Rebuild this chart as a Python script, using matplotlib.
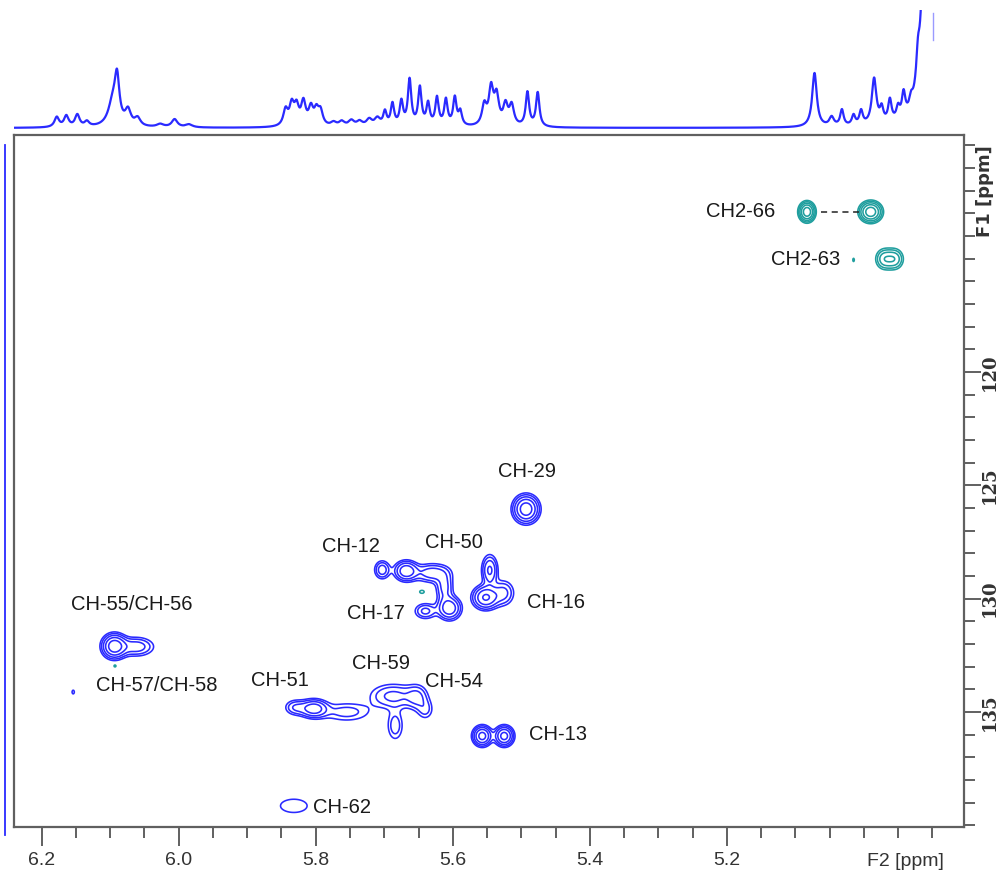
import numpy as np
import matplotlib
matplotlib.use("Agg")
import matplotlib.pyplot as plt
from matplotlib.lines import Line2D
from matplotlib.ticker import MultipleLocator, FixedLocator

# 1H projection (F2): peak position (ppm), height, half width (ppm)
h_ppm = [6.178, 6.164, 6.148, 6.134, 6.096, 6.090, 6.074, 6.060, 6.027, 6.006, 5.985,
         5.844, 5.835, 5.828, 5.818, 5.807, 5.799, 5.793,
         5.774, 5.762, 5.748, 5.736, 5.722, 5.710,
         5.699, 5.688, 5.675, 5.663, 5.648, 5.636, 5.623, 5.610, 5.597, 5.589,
         5.554, 5.544, 5.536, 5.523, 5.514, 5.491, 5.476,
         5.072, 5.047, 5.032, 5.015, 5.004, 4.985, 4.974, 4.962, 4.950, 4.942,
         4.931, 4.921, 4.906]
h_int = [10, 11, 12, 5, 24, 42, 15, 8, 3, 8, 3,
         16, 20, 18, 23, 17, 14, 14,
         4, 5, 6, 5, 7, 8,
         14, 22, 24, 46, 38, 22, 28, 26, 28, 14,
         20, 36, 28, 20, 20, 34, 34,
         54, 9, 16, 10, 14, 46, 14, 22, 12, 24,
         10, 30, 900]
h_hw = [0.004, 0.004, 0.004, 0.004, 0.008, 0.004, 0.005, 0.005, 0.006, 0.005, 0.006,
        0.004, 0.004, 0.004, 0.004, 0.004, 0.004, 0.004,
        0.005, 0.005, 0.005, 0.005, 0.005, 0.005,
        0.003, 0.003, 0.003, 0.003, 0.003, 0.003, 0.003, 0.003, 0.003, 0.003,
        0.004, 0.004, 0.004, 0.004, 0.004, 0.003, 0.003,
        0.004, 0.004, 0.003, 0.003, 0.003, 0.004, 0.003, 0.003, 0.003, 0.003,
        0.003, 0.003, 0.004]

# CH cross peaks (positive phase): F2, F1, width F2, width F1, amplitude
ch_f2 = [6.094, 6.062, 6.154,
         5.803, 5.830, 5.755, 5.687, 5.652, 5.640, 5.684,
         5.557, 5.525, 5.832, 5.493,
         5.703, 5.668, 5.630, 5.612, 5.605, 5.640,
         5.546, 5.552, 5.526]
ch_f1 = [132.10, 132.12, 134.12,
         134.85, 134.80, 135.00, 134.30, 134.35, 134.90, 135.60,
         136.06, 136.06, 139.14, 126.05,
         128.73, 128.78, 128.87, 129.50, 130.42, 130.55,
         128.75, 129.95, 129.75]
ch_w2 = [0.010, 0.016, 0.002,
         0.012, 0.010, 0.025, 0.022, 0.010, 0.008, 0.008,
         0.0078, 0.0078, 0.020, 0.0105,
         0.007, 0.010, 0.016, 0.008, 0.010, 0.010,
         0.007, 0.011, 0.010]
ch_w1 = [0.30, 0.26, 0.10,
         0.24, 0.22, 0.30, 0.35, 0.35, 0.30, 0.45,
         0.25, 0.25, 0.30, 0.34,
         0.25, 0.26, 0.26, 0.40, 0.30, 0.22,
         0.40, 0.30, 0.35]
ch_amp = [0.9, 0.35, 0.14,
          0.55, 0.25, 0.20, 0.30, 0.25, 0.18, 0.22,
          0.8, 0.8, 0.16, 0.9,
          0.35, 0.6, 0.35, 0.3, 0.6, 0.3,
          0.45, 0.7, 0.3]

# CH2 cross peaks (negative phase)
ch2_f2 = [5.083, 4.990, 4.970, 4.955, 5.015, 5.645, 6.093]
ch2_f1 = [112.94, 112.94, 115.02, 115.02, 115.06, 129.70, 132.97]
ch2_w2 = [0.0065, 0.009, 0.008, 0.008, 0.0015, 0.004, 0.002]
ch2_w1 = [0.24, 0.25, 0.28, 0.28, 0.10, 0.08, 0.06]
ch2_amp = [0.9, 0.9, 0.35, 0.35, 0.13, 0.14, 0.13]

# assignments
labels = ["CH2-66", "CH2-63", "CH-29", "CH-12", "CH-50", "CH-17", "CH-16",
          "CH-55/CH-56", "CH-57/CH-58", "CH-51", "CH-59", "CH-54", "CH-13", "CH-62"]
label_f2 = [5.130, 5.034, 5.491, 5.748, 5.598, 5.712, 5.449,
            6.068, 6.032, 5.852, 5.705, 5.598, 5.447, 5.762]
label_f1 = [112.94, 115.06, 124.41, 127.72, 127.54, 130.67, 130.15,
            130.28, 133.81, 133.59, 132.84, 133.67, 136.01, 139.23]
label_ha = ["right", "right"] + ["center"] * 12

blue = "#2a2aff"
teal = "#1f9e9e"
frame = "#606060"
sans = ["Liberation Sans", "DejaVu Sans"]

x_lim = (6.2404, 4.8538)
y_lim = (140.06, 109.55)

fig = plt.figure(figsize=(10.01, 8.77), dpi=100)
ax = fig.add_axes([0.01399, 0.05735, 0.94905, 0.78871])
ax_top = fig.add_axes([0.01399, 0.8472, 0.94905, 0.1414], sharex=ax)

# 2D field from the cross peak list
f2 = np.arange(4.85, 6.25, 0.0008)
f1 = np.arange(109.5, 140.1, 0.025)
X, Y = np.meshgrid(f2, f1)


def field(c2, c1, w2, w1, amp):
    z = np.zeros_like(X)
    for a, b, s2, s1, h in zip(c2, c1, w2, w1, amp):
        z += h * np.exp(-0.5 * (((X - a) / s2) ** 2 + ((Y - b) / s1) ** 2))
    return z


levels = 0.1 * 1.6 ** np.arange(5)
ax.contour(X, Y, field(ch_f2, ch_f1, ch_w2, ch_w1, ch_amp), levels=levels,
           colors=blue, linewidths=1.15)
ax.contour(X, Y, field(ch2_f2, ch2_f1, ch2_w2, ch2_w1, ch2_amp), levels=levels,
           colors=teal, linewidths=1.15)

# dashed link between the two CH2-66 protons
ax.plot([ch2_f2[0] - 0.02, ch2_f2[1] + 0.017], [ch2_f1[0], ch2_f1[1]],
        color="#222222", lw=1.1, ls=(0, (4, 3)))

for t, a, b, ha in zip(labels, label_f2, label_f1, label_ha):
    ax.text(a, b, t, ha=ha, va="center", fontsize=14.5, color="#1a1a1a", family=sans)

ax.set_xlim(*x_lim)
ax.set_ylim(*y_lim)
for s in ax.spines.values():
    s.set_color(frame)
    s.set_linewidth(1.6)

# F2 axis
ax.xaxis.set_major_locator(FixedLocator([6.2, 6.0, 5.8, 5.6, 5.4, 5.2]))
ax.xaxis.set_minor_locator(MultipleLocator(0.05))
ax.set_xticklabels(["6.2", "6.0", "5.8", "5.6", "5.4", "5.2"])
ax.tick_params(axis="x", which="major", direction="out", length=14, width=1.4,
               color=frame, pad=4, labelsize=14, labelcolor="#333333")
ax.tick_params(axis="x", which="minor", direction="out", length=8, width=1.4, color=frame)
for lab in ax.get_xticklabels():
    lab.set_family(sans)
ax.text(4.995, -0.05, "F2 [ppm]", transform=ax.get_xaxis_transform(),
        ha="left", va="center", fontsize=14, color="#333333", family=sans)

# F1 axis on the right, labels turned
ax.yaxis.tick_right()
ax.yaxis.set_major_locator(FixedLocator([120, 125, 130, 135]))
ax.yaxis.set_minor_locator(MultipleLocator(1))
ax.set_yticklabels(["120", "125", "130", "135"])
ax.tick_params(axis="y", which="major", direction="out", length=12, width=1.4,
               color=frame, pad=0, labelsize=13, labelcolor="#333333")
ax.tick_params(axis="y", which="minor", direction="out", length=8, width=1.4, color=frame)
for lab in ax.get_yticklabels():
    lab.set_rotation(90)
    lab.set_va("center")
    lab.set_weight("bold")
    lab.set_family(["DejaVu Serif"])
ax.text(1.022, 0.919, "F1 [ppm]", transform=ax.transAxes, rotation=90,
        ha="center", va="center", fontsize=13, weight="bold", color="#333333",
        family=["DejaVu Sans"])

# 1H projection on top
x1 = np.arange(4.9155, 6.245, 0.0004)
spec = np.zeros_like(x1)
for p, h, w in zip(h_ppm, h_int, h_hw):
    spec += h * w ** 2 / ((x1 - p) ** 2 + w ** 2)
ax_top.plot(x1, spec, color=blue, lw=1.6)
ax_top.plot([4.899, 4.899], [88, 115], color="#9a9aff", lw=1.0)
ax_top.set_ylim(-6, 118)
ax_top.axis("off")

# flat F1 projection along the left edge
fig.add_artist(Line2D([4.5 / 1001, 4.5 / 1001], [1 - 145 / 877, 1 - 835 / 877],
                      color=blue, lw=1.3))

fig.savefig("out.png", dpi=100)
